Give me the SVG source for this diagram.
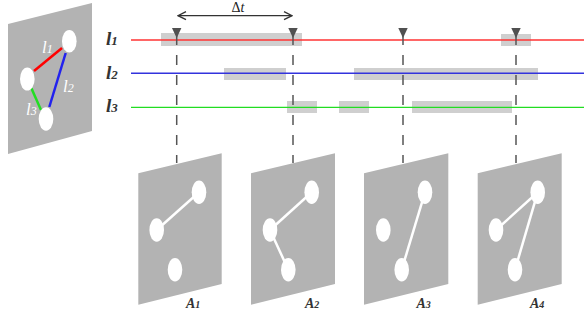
<svg xmlns="http://www.w3.org/2000/svg" width="584" height="320" viewBox="0 0 584 320">
<defs>
<style>
.panel{fill:#b3b3b3}
.node{fill:#fff}
.edge{stroke:#fff;stroke-width:2.5;fill:none}
.bar{fill:#cfcfcf}
.tri{fill:#505050}
.dash{stroke:#555;stroke-width:1.5;stroke-dasharray:10 10;fill:none}
.lab{font-family:"Liberation Serif",serif;font-style:italic;font-weight:bold;fill:#333}
.wl{font-family:"Liberation Serif",serif;font-style:italic;fill:#fff}
</style>
<marker id="open" viewBox="0 0 10 10" refX="9" refY="5" markerWidth="10" markerHeight="10" markerUnits="userSpaceOnUse" orient="auto-start-reverse">
<path d="M1,1 L9,5 L1,9" fill="none" stroke="#333" stroke-width="1.3"/>
</marker>
</defs>

<g id="graph">
<polygon class="panel" points="8,24 92,3 92,131 8,154"/>
<line x1="34" y1="71" x2="62" y2="48" stroke="#ff0000" stroke-width="2.5"/>
<line x1="65.7" y1="53" x2="49.3" y2="107" stroke="#2222ee" stroke-width="2.5"/>
<line x1="31.3" y1="88" x2="41" y2="110" stroke="#22dd22" stroke-width="2.5"/>
<ellipse class="node" cx="69.3" cy="41.3" rx="7.3" ry="11.3"/>
<ellipse class="node" cx="27.3" cy="79" rx="7.3" ry="11.5"/>
<ellipse class="node" cx="46" cy="119" rx="7.3" ry="11.7"/>
<text class="wl" x="42" y="53" font-size="17">l<tspan font-size="12">1</tspan></text>
<text class="wl" x="63" y="92" font-size="17">l<tspan font-size="12">2</tspan></text>
<text class="wl" x="26" y="115" font-size="17">l<tspan font-size="12">3</tspan></text>
</g>

<g id="timelines">
<rect class="bar" x="161" y="33" width="141" height="13"/>
<rect class="bar" x="501" y="34" width="30" height="12"/>
<rect class="bar" x="224" y="68" width="62" height="12"/>
<rect class="bar" x="354" y="68" width="184" height="12"/>
<rect class="bar" x="287" y="101" width="30" height="12"/>
<rect class="bar" x="339" y="101" width="30" height="12"/>
<rect class="bar" x="412" y="101" width="100" height="12"/>
<line x1="131" y1="40" x2="584" y2="40" stroke="#ff3333" stroke-width="1.5"/>
<line x1="131" y1="73.3" x2="584" y2="73.3" stroke="#3333dd" stroke-width="1.5"/>
<line x1="131" y1="107.3" x2="584" y2="107.3" stroke="#22dd22" stroke-width="1.3"/>
<text class="lab" x="106" y="45" font-size="19">l<tspan font-size="13">1</tspan></text>
<text class="lab" x="106" y="79" font-size="19">l<tspan font-size="13">2</tspan></text>
<text class="lab" x="106" y="112" font-size="19">l<tspan font-size="13">3</tspan></text>
</g>

<g id="connectors">
<line class="dash" x1="176.7" y1="35" x2="176.7" y2="163"/>
<line class="dash" x1="293" y1="35" x2="293" y2="163"/>
<line class="dash" x1="403" y1="35" x2="403" y2="163"/>
<line class="dash" x1="516" y1="35" x2="516" y2="163"/>
<polygon class="tri" points="172,28 181.4,28 176.7,38"/>
<polygon class="tri" points="288.3,28 297.7,28 293,38"/>
<polygon class="tri" points="398.3,28 407.7,28 403,38"/>
<polygon class="tri" points="511.3,28 520.7,28 516,38"/>
<line x1="178" y1="15.7" x2="292" y2="15.7" stroke="#333" stroke-width="1.3" marker-start="url(#open)" marker-end="url(#open)"/>
<text x="238" y="12" font-family="Liberation Serif,serif" font-size="14" fill="#222" text-anchor="middle">Δ<tspan font-style="italic">t</tspan></text>
</g>

<g id="A1">
<polygon class="panel" points="138.3,173.3 221.7,153.3 221.7,284 138.3,304.7"/>
<line class="edge" x1="156.7" y1="230" x2="199" y2="192.3"/>
<ellipse class="node" cx="199" cy="192.3" rx="7.3" ry="11.7"/>
<ellipse class="node" cx="156.7" cy="230" rx="7.3" ry="11.7"/>
<ellipse class="node" cx="175" cy="269.7" rx="7.3" ry="11.7"/>
<text class="lab" x="186" y="308" font-size="14">A<tspan font-size="10">1</tspan></text>
</g>

<g id="A2">
<polygon class="panel" points="251,173.3 335,153.3 335,284 251,304.7"/>
<line class="edge" x1="270" y1="230" x2="311.7" y2="192.3"/>
<line class="edge" x1="270" y1="230" x2="288.3" y2="269.7"/>
<ellipse class="node" cx="311.7" cy="192.3" rx="7.3" ry="11.7"/>
<ellipse class="node" cx="270" cy="230" rx="7.3" ry="11.7"/>
<ellipse class="node" cx="288.3" cy="269.7" rx="7.3" ry="11.7"/>
<text class="lab" x="305" y="308" font-size="14">A<tspan font-size="10">2</tspan></text>
</g>

<g id="A3">
<polygon class="panel" points="364,173.3 448.3,153.3 448.3,284 364,304.7"/>
<line class="edge" x1="425" y1="192.3" x2="401.7" y2="269.7"/>
<ellipse class="node" cx="425" cy="192.3" rx="7.3" ry="11.7"/>
<ellipse class="node" cx="383.3" cy="230" rx="7.3" ry="11.7"/>
<ellipse class="node" cx="401.7" cy="269.7" rx="7.3" ry="11.7"/>
<text class="lab" x="416.5" y="308" font-size="14">A<tspan font-size="10">3</tspan></text>
</g>

<g id="A4">
<polygon class="panel" points="477.7,173.3 561.7,153.3 561.7,284 477.7,304.7"/>
<line class="edge" x1="496" y1="230" x2="537.7" y2="192.3"/>
<line class="edge" x1="537.7" y1="192.3" x2="515" y2="269.7"/>
<ellipse class="node" cx="537.7" cy="192.3" rx="7.3" ry="11.7"/>
<ellipse class="node" cx="496" cy="230" rx="7.3" ry="11.7"/>
<ellipse class="node" cx="515" cy="269.7" rx="7.3" ry="11.7"/>
<text class="lab" x="530" y="308" font-size="14">A<tspan font-size="10">4</tspan></text>
</g>
</svg>
